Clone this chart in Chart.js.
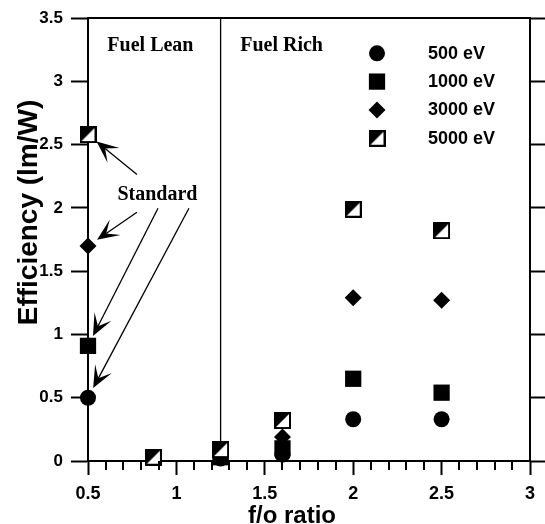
<!DOCTYPE html>
<html>
<head>
<meta charset="utf-8">
<script src="https://cdn.jsdelivr.net/npm/chart.js@4.4.0/dist/chart.umd.min.js"></script>
<style>
  html, body { margin: 0; padding: 0; background: #fff; }
  canvas { display: block; }
</style>
</head>
<body>
<canvas id="chart" width="545" height="524"></canvas>
<script>
// f/o ratio of each measured mixture
const ratio = [0.5, 0.87, 1.25, 1.6, 2.0, 2.5];
// luminous efficiency (lm/W) per excitation energy; null = not measured
const eff500  = [0.50, null, 0.02, 0.05, 0.33, 0.33];
const eff1000 = [0.91, null, 0.03, 0.10, 0.65, 0.54];
const eff3000 = [1.70, null, null, 0.19, 1.29, 1.27];
const eff5000 = [2.58, 0.03, 0.09, 0.32, 1.99, 1.82];
const seriesLabels = ['500 eV', '1000 eV', '3000 eV', '5000 eV'];

const regionBoundary = 1.25;
const regionLabels = ['Fuel Lean', 'Fuel Rich'];
const standardLabel = 'Standard';

// minor tick values on the f/o axis (between the labelled majors)
const minorTicks = [0.6, 0.7, 0.8, 0.9, 1.1, 1.2, 1.3, 1.4, 1.6, 1.7, 1.8, 1.9,
                    2.1, 2.2, 2.3, 2.4, 2.6, 2.7, 2.8, 2.9];

// annotation anchors (data units)
const annot = {
  lean:     { x: 0.853, y: 3.24 },
  rich:     { x: 1.595, y: 3.24 },
  standard: { x: 0.893, y: 2.06 },
  // arrow tails, one per series (pointing at the f/o = 0.5 standard sample)
  arrowTails: [
    { x: 1.071, y: 1.998 },  // 500 eV
    { x: 0.896, y: 1.998 },  // 1000 eV
    { x: 0.777, y: 1.966 },  // 3000 eV
    { x: 0.777, y: 2.265 }   // 5000 eV
  ]
};

const BLACK = '#000';
const SANS = '"Liberation Sans", Arial, sans-serif';
const SERIF = '"Liberation Serif", "Times New Roman", serif';

function pts(vals) {
  const out = [];
  ratio.forEach((x, i) => { if (vals[i] !== null) out.push({ x: x, y: vals[i] }); });
  return out;
}

// square marker, upper-left half filled
function makeHalfSquare(size) {
  const c = document.createElement('canvas');
  c.width = size; c.height = size;
  const g = c.getContext('2d');
  g.fillStyle = '#fff';
  g.fillRect(0, 0, size, size);
  g.fillStyle = BLACK;
  g.beginPath();
  g.moveTo(0, 0); g.lineTo(size, 0); g.lineTo(0, size);
  g.closePath(); g.fill();
  g.strokeStyle = BLACK; g.lineWidth = 2;
  g.strokeRect(1, 1, size - 2, size - 2);
  return c;
}
const halfSquare = makeHalfSquare(17);

const datasets = [
  { label: seriesLabels[0], data: pts(eff500),  pointStyle: 'circle',  pointRadius: 8,    order: 3 },
  { label: seriesLabels[1], data: pts(eff1000), pointStyle: 'rect',    pointRadius: 11.5, order: 2 },
  { label: seriesLabels[2], data: pts(eff3000), pointStyle: 'rectRot', pointRadius: 8.5,  order: 1 },
  { label: seriesLabels[3], data: pts(eff5000), pointStyle: halfSquare, pointRadius: 8.5, order: 0 }
].map(d => Object.assign(d, {
  backgroundColor: BLACK, borderColor: BLACK, borderWidth: 0,
  pointHoverRadius: d.pointRadius, showLine: false, clip: false
}));

function drawArrow(ctx, x0, y0, x1, y1) {
  const dx = x1 - x0, dy = y1 - y0, len = Math.hypot(dx, dy);
  const ux = dx / len, uy = dy / len, px = -uy, py = ux;
  const L = 22, W = 9.5, N = 11;
  ctx.beginPath();
  ctx.moveTo(x0, y0);
  ctx.lineTo(x1 - ux * N, y1 - uy * N);
  ctx.stroke();
  ctx.beginPath();
  ctx.moveTo(x1, y1);
  ctx.lineTo(x1 - ux * L + px * W, y1 - uy * L + py * W);
  ctx.lineTo(x1 - ux * N, y1 - uy * N);
  ctx.lineTo(x1 - ux * L - px * W, y1 - uy * L - py * W);
  ctx.closePath();
  ctx.fill();
}

const decorations = {
  id: 'decorations',
  beforeDatasetsDraw(chart) {
    const { ctx, chartArea, scales } = chart;
    const x = scales.x.getPixelForValue(regionBoundary);
    ctx.save();
    ctx.strokeStyle = BLACK;
    ctx.lineWidth = 1.3;
    ctx.beginPath();
    ctx.moveTo(x, chartArea.top);
    ctx.lineTo(x, chartArea.bottom);
    ctx.stroke();
    ctx.restore();
  },
  afterDraw(chart) {
    const { ctx, scales } = chart;
    const sx = scales.x, sy = scales.y;
    ctx.save();
    ctx.fillStyle = BLACK;
    ctx.strokeStyle = BLACK;

    // minor ticks below the f/o axis
    const axisY = Math.round(sy.getPixelForValue(0));
    minorTicks.forEach(v => {
      const px = Math.round(sx.getPixelForValue(v));
      ctx.fillRect(px - 1, axisY, 2, 9);
    });

    // region captions
    ctx.font = 'bold 20px ' + SERIF;
    ctx.textAlign = 'center';
    ctx.textBaseline = 'alphabetic';
    ctx.fillText(regionLabels[0], sx.getPixelForValue(annot.lean.x), sy.getPixelForValue(annot.lean.y));
    ctx.fillText(regionLabels[1], sx.getPixelForValue(annot.rich.x), sy.getPixelForValue(annot.rich.y));
    ctx.fillText(standardLabel, sx.getPixelForValue(annot.standard.x), sy.getPixelForValue(annot.standard.y));

    // arrows from the caption to each standard sample
    ctx.lineWidth = 1.3;
    const firsts = [eff500[0], eff1000[0], eff3000[0], eff5000[0]];
    annot.arrowTails.forEach((t, i) => {
      const x0 = sx.getPixelForValue(t.x), y0 = sy.getPixelForValue(t.y);
      const cx = sx.getPixelForValue(ratio[0]), cy = sy.getPixelForValue(firsts[i]);
      const d = Math.hypot(x0 - cx, y0 - cy);
      const gap = 11;
      drawArrow(ctx, x0, y0, cx + (x0 - cx) / d * gap, cy + (y0 - cy) / d * gap);
    });

    // legend
    const lx = 377, ly0 = 53.3, step = 28.3, tx = 428;
    ctx.font = 'bold 18px ' + SANS;
    ctx.textAlign = 'left';
    ctx.textBaseline = 'middle';
    chart.data.datasets.forEach((ds, i) => {
      const y = ly0 + i * step;
      Chart.helpers.drawPoint(ctx, { pointStyle: ds.pointStyle, radius: ds.pointRadius, rotation: 0, borderWidth: 0 }, lx, y);
      ctx.fillText(ds.label, tx, y + 0.5);
    });

    // axis titles
    ctx.textAlign = 'center';
    ctx.textBaseline = 'alphabetic';
    ctx.font = 'bold 24px ' + SANS;
    ctx.fillText('f/o ratio', 292, 523);
    ctx.translate(37, 212.5);
    ctx.rotate(-Math.PI / 2);
    ctx.font = 'bold 28px ' + SANS;
    ctx.fillText('Efficiency (lm/W)', 0, 0);
    ctx.restore();
  }
};

// plain number labels: 0, 0.5, 1, 1.5 ...
function fmt(v) { return String(Number(v.toFixed(2))); }

new Chart(document.getElementById('chart'), {
  type: 'scatter',
  data: { datasets: datasets },
  plugins: [decorations],
  options: {
    responsive: false,
    animation: false,
    devicePixelRatio: 1,
    layout: { padding: 0 },
    plugins: { legend: { display: false }, tooltip: { enabled: false } },
    scales: {
      x: {
        type: 'linear', position: 'bottom',
        min: 0.5, max: 3,
        ticks: {
          stepSize: 0.5, maxRotation: 0, color: BLACK, padding: 8,
          font: { family: SANS, size: 18, weight: 'bold' },
          callback: v => fmt(v)
        },
        grid: { drawOnChartArea: false, tickLength: 14, tickWidth: 2, tickColor: BLACK },
        border: { display: true, color: BLACK, width: 2 },
        afterFit(s) { s.height = 63; }
      },
      xTop: {
        type: 'linear', position: 'top',
        min: 0.5, max: 3,
        ticks: { display: false },
        grid: { drawOnChartArea: false, drawTicks: false },
        border: { display: true, color: BLACK, width: 2 },
        afterFit(s) { s.height = 16; }
      },
      y: {
        type: 'linear', position: 'left',
        min: 0, max: 3.5,
        ticks: { stepSize: 0.5, color: BLACK, font: { family: SANS, size: 17, weight: 'bold' }, padding: 8, callback: v => fmt(v) },
        grid: { drawOnChartArea: false, tickLength: 17, tickWidth: 2, tickColor: BLACK },
        border: { display: true, color: BLACK, width: 2 },
        afterFit(s) { s.width = 88; }
      },
      yRight: {
        type: 'linear', position: 'right',
        min: 0, max: 3.5,
        ticks: { stepSize: 0.5, display: false },
        grid: { drawOnChartArea: false, tickLength: 15, tickWidth: 2, tickColor: BLACK },
        border: { display: true, color: BLACK, width: 2 },
        afterFit(s) { s.width = 15; }
      }
    }
  }
});
</script>
</body>
</html>
